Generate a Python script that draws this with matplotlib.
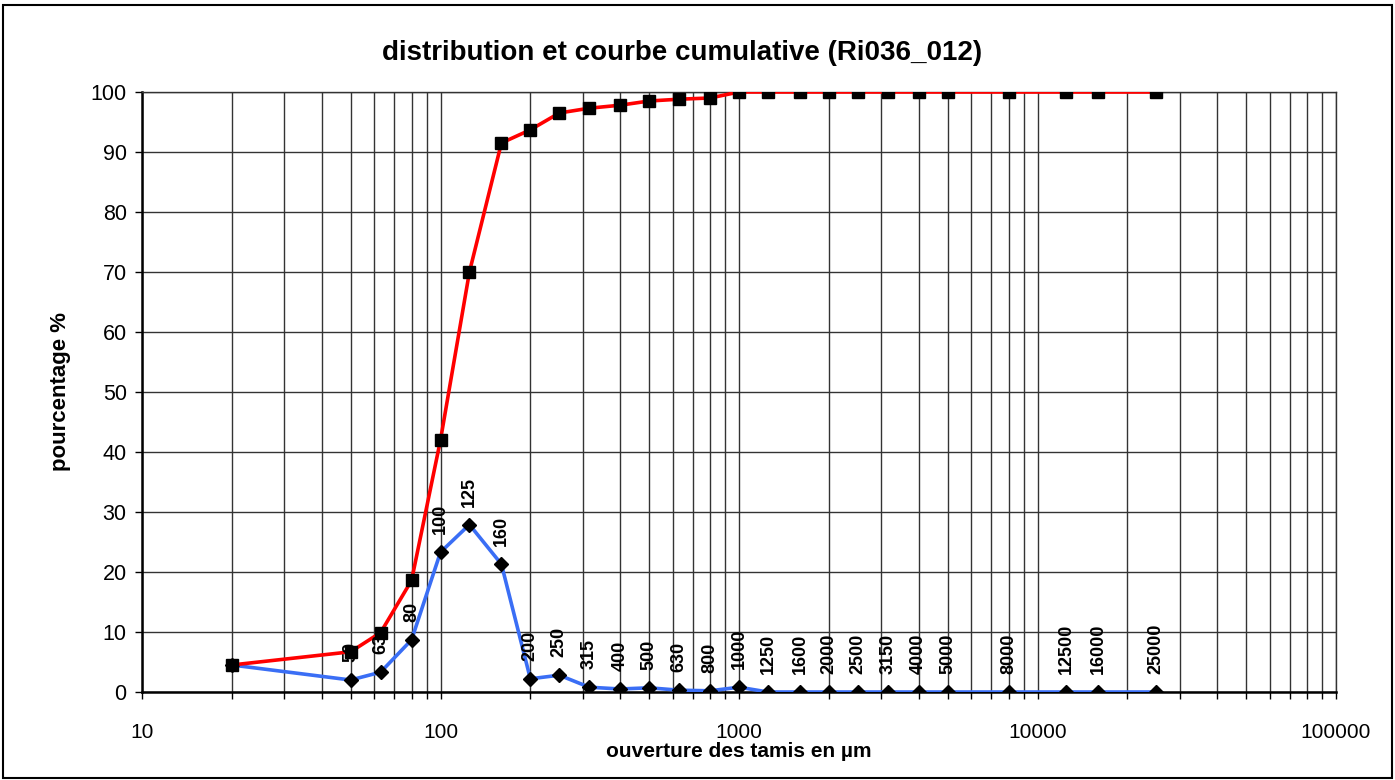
import matplotlib.pyplot as plt
from matplotlib.patches import Rectangle
from matplotlib.ticker import LogLocator, FixedLocator, NullFormatter

plt.rcParams['font.family'] = ['Liberation Sans', 'DejaVu Sans']

# -----------------------------
# Data
# -----------------------------
sieve_sizes = [20, 50, 63, 80, 100, 125, 160, 200, 250, 315, 400, 500, 630, 800,
               1000, 1250, 1600, 2000, 2500, 3150, 4000, 5000, 8000, 12500, 16000, 25000]
cumulative = [4.5, 6.7, 9.9, 18.6, 42.0, 70.0, 91.5, 93.7, 96.5, 97.3, 97.8, 98.5, 98.8, 99.0,
              100, 100, 100, 100, 100, 100, 100, 100, 100, 100, 100, 100]
distribution = [4.5, 2.0, 3.3, 8.7, 23.3, 27.9, 21.3, 2.2, 2.8, 0.8, 0.5, 0.7, 0.3, 0.2,
                0.8, 0, 0, 0, 0, 0, 0, 0, 0, 0, 0, 0]
point_labels = ['', '50', '63', '80', '100', '125', '160', '200', '250', '315', '400', '500',
                '630', '800', '1000', '1250', '1600', '2000', '2500', '3150', '4000', '5000',
                '8000', '12500', '16000', '25000']

# -----------------------------
# Figure
# -----------------------------
fig = plt.figure(figsize=(13.95, 7.8), dpi=100)
ax = fig.add_axes([142 / 1395, 1 - 692 / 780, (1336 - 142) / 1395, 600 / 780])

# outer frame
fig.patches.append(Rectangle((3 / 1395, 2 / 780), 1389 / 1395, 773 / 780,
                             transform=fig.transFigure, fill=False,
                             edgecolor='black', linewidth=1.5))

ax.plot(sieve_sizes, distribution, color='#3a6ef5', linewidth=2.6,
        marker='D', markersize=7, markerfacecolor='black', markeredgecolor='black',
        zorder=3)
ax.plot(sieve_sizes, cumulative, color='#ff0000', linewidth=2.6,
        marker='s', markersize=8.5, markerfacecolor='black', markeredgecolor='black',
        zorder=4)

for x, y, lab in zip(sieve_sizes, distribution, point_labels):
    if lab:
        ax.annotate(lab, (x, y), xytext=(0, 13), textcoords='offset points',
                    rotation=90, ha='center', va='bottom', fontsize=13,
                    fontweight='bold', zorder=5)

ax.set_xscale('log')
ax.set_xlim(10, 100000)
ax.set_ylim(0, 100)
ax.yaxis.set_major_locator(FixedLocator(range(0, 101, 10)))
ax.xaxis.set_major_locator(LogLocator(base=10))
ax.xaxis.set_minor_locator(LogLocator(base=10, subs=range(2, 10)))
ax.xaxis.set_minor_formatter(NullFormatter())
ax.xaxis.set_major_formatter(plt.FuncFormatter(lambda v, p: f'{int(v)}'))

ax.grid(True, which='major', axis='both', color='#333333', linewidth=1.0)
ax.grid(True, which='minor', axis='x', color='#333333', linewidth=1.0)

ax.tick_params(axis='both', which='both', direction='out', length=5,
               width=1, color='black')
ax.tick_params(axis='x', labelsize=15, pad=17)
ax.tick_params(axis='y', labelsize=15.5, pad=6)

for side in ['left', 'bottom']:
    ax.spines[side].set_linewidth(1.8)
for side in ['top', 'right']:
    ax.spines[side].set_color('#333333')
    ax.spines[side].set_linewidth(1.0)

fig.text(682 / 1395, 1 - 53 / 780, 'distribution et courbe cumulative (Ri036_012)',
         fontsize=20, fontweight='bold', ha='center', va='center')
ax.set_xlabel('ouverture des tamis en µm', fontsize=15, fontweight='bold', labelpad=0)
ax.set_ylabel('pourcentage %', fontsize=16, fontweight='bold', labelpad=14)

fig.savefig('out.png', dpi=100)
